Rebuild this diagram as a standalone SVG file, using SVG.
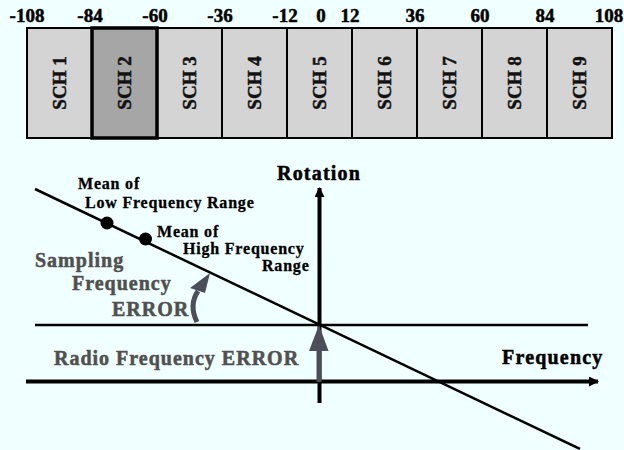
<svg xmlns="http://www.w3.org/2000/svg" width="624" height="450" viewBox="0 0 624 450">
<defs>
<style>
.t{font-family:"Liberation Serif","Times New Roman",serif;font-weight:bold;stroke-width:0.5px;}
.num{font-size:19px;fill:#000;stroke:#000;text-anchor:middle;}
.sch{font-size:19px;fill:#111;stroke:#111;text-anchor:middle;}
.box{fill:#d4d4d4;stroke:#000;stroke-width:2;}
.sel{fill:#a6a6a6;stroke:#000;stroke-width:3.5;}
.lbl{font-size:16px;fill:#000;stroke:#000;stroke-width:0.3px;letter-spacing:0.8px;}
.err{font-size:20px;fill:#505050;stroke:#505050;letter-spacing:1px;}
.ax{font-size:20px;fill:#000;stroke:#000;letter-spacing:1.2px;}
.ln{stroke:#000;fill:none;}
</style>
<marker id="ah" markerWidth="10" markerHeight="10" refX="9" refY="5" orient="auto" markerUnits="userSpaceOnUse" viewBox="0 0 10 10">
<path d="M0,0 L10,5 L0,10 Z" fill="#000"/>
</marker>
</defs>
<rect width="624" height="450" fill="#f0ffff"/>
<g id="scale">
<text class="t num" x="27" y="22">-108</text>
<text class="t num" x="90" y="22">-84</text>
<text class="t num" x="155" y="22">-60</text>
<text class="t num" x="220" y="22">-36</text>
<text class="t num" x="285" y="22">-12</text>
<text class="t num" x="321" y="22">0</text>
<text class="t num" x="350" y="22">12</text>
<text class="t num" x="415" y="22">36</text>
<text class="t num" x="480" y="22">60</text>
<text class="t num" x="545" y="22">84</text>
<text class="t num" x="609" y="22">108</text>
</g>
<g id="sch1"><rect class="box" x="27" y="28" width="65" height="110"/><text class="t sch" transform="translate(66,83) rotate(-90)">SCH 1</text></g>
<g id="sch3"><rect class="box" x="157" y="28" width="65" height="110"/><text class="t sch" transform="translate(196,83) rotate(-90)">SCH 3</text></g>
<g id="sch4"><rect class="box" x="222" y="28" width="65" height="110"/><text class="t sch" transform="translate(261,83) rotate(-90)">SCH 4</text></g>
<g id="sch5"><rect class="box" x="287" y="28" width="65" height="110"/><text class="t sch" transform="translate(326,83) rotate(-90)">SCH 5</text></g>
<g id="sch6"><rect class="box" x="352" y="28" width="65" height="110"/><text class="t sch" transform="translate(391,83) rotate(-90)">SCH 6</text></g>
<g id="sch7"><rect class="box" x="417" y="28" width="65" height="110"/><text class="t sch" transform="translate(456,83) rotate(-90)">SCH 7</text></g>
<g id="sch8"><rect class="box" x="482" y="28" width="65" height="110"/><text class="t sch" transform="translate(521,83) rotate(-90)">SCH 8</text></g>
<g id="sch9"><rect class="box" x="547" y="28" width="65" height="110"/><text class="t sch" transform="translate(586,83) rotate(-90)">SCH 9</text></g>
<g id="sch2"><rect class="sel" x="92" y="28" width="65" height="110"/><text class="t sch" transform="translate(131,83) rotate(-90)">SCH 2</text></g>

<g id="connectors">
<line class="ln" x1="35" y1="325" x2="588" y2="325" stroke-width="2.5"/>
<line class="ln" x1="26" y1="381.5" x2="598" y2="381.5" stroke-width="4" marker-end="url(#ah)"/>
<line class="ln" x1="319.5" y1="403" x2="319.5" y2="188" stroke-width="4" marker-end="url(#ah)"/>
<line class="ln" x1="35" y1="189" x2="580" y2="449" stroke-width="2.5"/>
<path d="M319,382 L319,350" stroke="#4a4f5a" stroke-width="5" fill="none"/>
<path d="M309,351 L319,325 L328.5,351 Z" fill="#4a4f5a"/>
<path d="M197,322 C191,310 192,300 198,291" stroke="#4a4f5a" stroke-width="5" fill="none"/>
<path d="M190,288 L210,273 L205,293 Z" fill="#4a4f5a"/>
</g>

<g id="lowdot"><circle cx="107" cy="223" r="6.5" fill="#000"/>
<text class="t lbl" x="78" y="189">Mean of</text>
<text class="t lbl" x="85" y="208">Low Frequency Range</text></g>
<g id="highdot"><circle cx="145.5" cy="239" r="6.5" fill="#000"/>
<text class="t lbl" x="157" y="237">Mean of</text>
<text class="t lbl" x="183" y="254">High Frequency</text>
<text class="t lbl" x="262" y="271">Range</text></g>

<g id="labels">
<text class="t ax" x="277" y="180">Rotation</text>
<text class="t ax" x="502" y="364">Frequency</text>
<text class="t err" x="54" y="365">Radio Frequency ERROR</text>
<text class="t err" x="35" y="267">Sampling</text>
<text class="t err" x="72" y="290">Frequency</text>
<text class="t err" x="112" y="316">ERROR</text>
</g>
</svg>
